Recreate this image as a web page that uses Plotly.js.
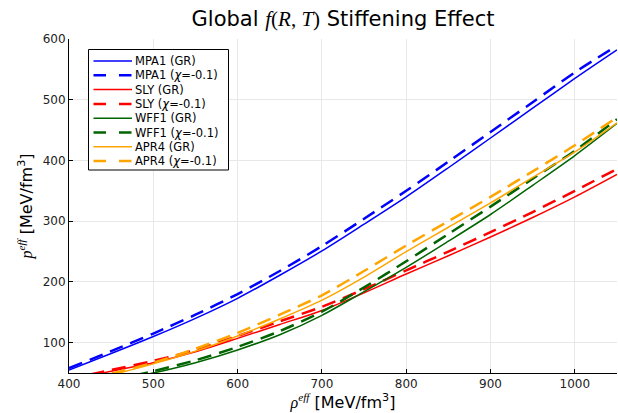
<!DOCTYPE html>
<html>
<head>
<meta charset="utf-8">
<script src="https://cdn.plot.ly/plotly-3.0.1.min.js"></script>
<style>html,body{margin:0;padding:0;background:#fff;}#chart{width:618px;height:413px;}</style>
</head>
<body>
<div id="chart"></div>
<script>
// energy density rho_eff [MeV/fm^3]
const rho = [400, 450, 500, 550, 600, 650, 700, 750, 800, 850, 900, 950, 1000, 1050];
// pressure p_eff [MeV/fm^3]
const mpa1GR  = [55, 82, 110, 140, 173, 211, 251, 295, 340, 388, 437, 486, 535, 582];
const mpa1Chi = [58, 86, 115, 146, 180, 218, 259, 304, 350, 398, 447, 496, 545, 589];
const slyGR   = [38, 53, 67, 85, 107, 130, 153, 182, 213, 243, 274, 306, 340, 377];
const slyChi  = [40, 55, 70, 88, 111, 135, 159, 188, 219, 250, 282, 315, 350, 386];
const wff1GR  = [25, 36, 50, 67, 88, 113, 145, 184, 224, 267, 311, 359, 408, 461];
const wff1Chi = [27, 38, 53, 71, 93, 119, 151, 191, 234, 279, 324, 370, 416, 468];
const apr4GR  = [33, 47, 65, 86, 111, 139, 170, 208, 250, 290, 330, 372, 414, 462];
const apr4Chi = [33, 49, 67, 90, 116, 146, 178, 218, 260, 300, 340, 382, 425, 471];

const seriesNames = ["MPA1 (GR)", "MPA1 (<i>χ</i>=-0.1)", "SLY (GR)", "SLY (<i>χ</i>=-0.1)",
                     "WFF1 (GR)", "WFF1 (<i>χ</i>=-0.1)", "APR4 (GR)", "APR4 (<i>χ</i>=-0.1)"];
const seriesValues = [mpa1GR, mpa1Chi, slyGR, slyChi, wff1GR, wff1Chi, apr4GR, apr4Chi];
const seriesColors = ["#0000ff", "#0000ff", "#ff0000", "#ff0000", "#006400", "#006400", "#ffa500", "#ffa500"];
const seriesDashed = [false, true, false, true, false, true, false, true];

const xTicks = [400, 500, 600, 700, 800, 900, 1000];
const yTicks = [100, 200, 300, 400, 500, 600];

const W = 618, H = 413;
const M = {l: 69, r: 1, t: 39, b: 40};
const pw = W - M.l - M.r, ph = H - M.t - M.b;
const px = v => (v - M.l) / pw;
const py = v => (H - M.b - v) / ph;

const traces = seriesValues.map((vals, i) => ({
  x: rho, y: vals, type: 'scatter', mode: 'lines', name: seriesNames[i],
  showlegend: false,
  line: {color: seriesColors[i], width: seriesDashed[i] ? 2.5 : 1.5,
         dash: seriesDashed[i] ? '14px,8px' : 'solid', shape: 'spline', smoothing: 0.8}
}));

// compact legend box as in the reference
const legendTop = 61, legendStep = 14.3;
const shapes = [{type: 'rect', xref: 'paper', yref: 'paper',
  x0: px(88.5), x1: px(228.5), y0: py(49.5), y1: py(170),
  line: {color: '#000', width: 1}, fillcolor: '#fff', layer: 'above'}];
const annotations = [];
seriesNames.forEach((n, i) => {
  const ly = legendTop + i * legendStep;
  shapes.push({type: 'line', xref: 'paper', yref: 'paper', layer: 'above',
    x0: px(93.5), x1: px(132), y0: py(ly), y1: py(ly),
    line: {color: seriesColors[i], width: seriesDashed[i] ? 2.5 : 1.5,
           dash: seriesDashed[i] ? '12.5px,13px' : 'solid'}});
  annotations.push({xref: 'paper', yref: 'paper', x: px(134), y: py(ly),
    xanchor: 'left', yanchor: 'middle', showarrow: false, text: n, borderpad: 0,
    font: {family: 'DejaVu Sans', size: 11.5, color: '#000'}});
});

const math = s => '<span style="font-family:Liberation Serif"><i>' + s + '</i></span>';

const layout = {
  width: W, height: H,
  margin: M,
  paper_bgcolor: '#fff', plot_bgcolor: '#fff',
  font: {family: 'DejaVu Sans', color: '#000'},
  showlegend: false,
  title: {text: 'Global ' + '<span style="font-family:Liberation Serif"><i>f</i>(<i>R</i>, <i>T</i>)</span>' + ' Stiffening Effect',
          font: {family: 'DejaVu Sans', size: 21, color: '#000'},
          x: (M.l + pw / 2) / W, xanchor: 'center', y: 1 - 19 / H, yanchor: 'middle'},
  xaxis: {range: [400, 1050], tickvals: xTicks, ticktext: xTicks.map(String),
          showgrid: true, gridcolor: '#e8e8e8', gridwidth: 1, zeroline: false,
          showline: true, linecolor: '#000', linewidth: 1, mirror: false,
          ticks: 'inside', ticklen: 4, tickcolor: '#000',
          tickfont: {family: 'DejaVu Sans', size: 12, color: '#222'},
          title: {text: math('ρ') + '<sup>' + math('eff') + '</sup> [MeV/fm<sup>3</sup>]',
                  font: {family: 'DejaVu Sans', size: 16, color: '#000'}, standoff: 3}},
  yaxis: {range: [50, 600], tickvals: yTicks, ticktext: yTicks.map(String),
          showgrid: true, gridcolor: '#e8e8e8', gridwidth: 1, zeroline: false,
          showline: true, linecolor: '#000', linewidth: 1, mirror: false,
          ticks: 'inside', ticklen: 4, tickcolor: '#000',
          tickfont: {family: 'DejaVu Sans', size: 12, color: '#222'},
          title: {text: math('p') + '<sup>' + math('eff') + '</sup> [MeV/fm<sup>3</sup>]',
                  font: {family: 'DejaVu Sans', size: 16, color: '#000'}, standoff: 6}},
  shapes: shapes,
  annotations: annotations
};

Plotly.newPlot('chart', traces, layout, {displayModeBar: false, staticPlot: true});
</script>
</body>
</html>
